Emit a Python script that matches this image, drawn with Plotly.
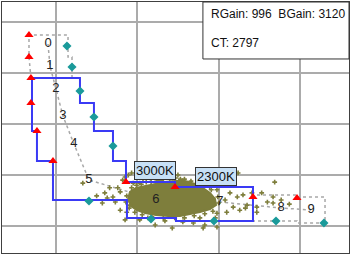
import plotly.graph_objects as go

# ---- data (chart units: grid lines at integer values) ----
zone_x = [-0.295, 0.295, 0.295, 0.467, 0.467, 0.701, 0.701, 0.861, 0.861, 1.464, 1.464, 2.423,
          2.423, 1.476, 1.476, 0.873, 0.873, -0.037, -0.037, -0.234, -0.234, -0.295, -0.295]
zone_y = [2.902, 2.902, 2.412, 2.412, 1.863, 1.863, 1.275, 1.275, 0.863, 0.863, 0.765, 0.765,
          0.098, 0.098, 0.157, 0.157, 0.510, 0.510, 1.275, 1.275, 1.863, 1.863, 2.902]

outer_a_x = [-0.308, -0.332, -0.332, 0.148, 0.148, 0.197, 0.197]
outer_a_y = [2.902, 3.314, 3.745, 3.745, 3.314, 3.314, 2.902]
outer_b_x = [2.423, 2.423, 2.964, 2.964, 3.309, 3.309, 2.964, 2.964, 2.423]
outer_b_y = [0.569, 0.608, 0.608, 0.569, 0.569, 0.059, 0.059, 0.098, 0.098]

upper_x = [-0.332, -0.332, -0.308, -0.308, -0.234, -0.037, 0.861, 1.464, 2.423, 2.964]
upper_y = [3.745, 3.314, 2.902, 2.412, 1.863, 1.275, 0.863, 0.765, 0.569, 0.549]

lower_x = [0.135, 0.197, 0.295, 0.467, 0.701, 0.406, 1.169, 1.943, 2.706, 3.296]
lower_y = [3.529, 3.118, 2.647, 2.137, 1.569, 0.490, 0.137, 0.098, 0.098, 0.059]

locus_x = [-0.098, -0.074, 0.000, 0.086, 0.221, 0.406, 1.230, 2.017, 2.768, 3.137]
locus_y = [3.569, 3.137, 2.686, 2.157, 1.608, 0.902, 0.510, 0.471, 0.353, 0.314]
locus_labels = ["0", "1", "2", "3", "4", "5", "6", "7", "8", "9"]

core_x = [0.886, 0.910, 0.984, 1.095, 1.218, 1.341, 1.464, 1.587, 1.710, 1.808, 1.894, 1.956,
          1.968, 1.894, 1.771, 1.648, 1.525, 1.378, 1.230, 1.095, 0.996, 0.923, 0.886]
core_y = [0.529, 0.667, 0.745, 0.784, 0.824, 0.863, 0.882, 0.882, 0.824, 0.745, 0.647, 0.529,
          0.412, 0.333, 0.275, 0.235, 0.196, 0.196, 0.216, 0.255, 0.314, 0.392, 0.529]

stat_x = [0.33, 0.50, 0.57, 0.60, 0.70, 0.76, 0.63, 0.66, 0.79, 0.73, 0.79, 0.87, 0.85, 0.91,
          0.82, 0.89, 0.93, 0.95, 0.85, 1.07, 1.16, 1.19, 1.26, 1.37, 1.50, 1.53, 1.61, 1.69,
          1.03, 1.32, 1.43, 1.89, 1.98, 2.04, 2.18, 2.24, 2.14, 2.23, 2.30, 2.41, 2.08, 2.18,
          2.26, 2.10, 1.98, 2.35, 2.33, 2.47, 2.53, 2.60, 2.67, 2.69, 2.77, 2.67, 2.87, 2.47,
          1.98, 1.83, 1.81, 1.69, 1.56, 1.43, 1.22, 1.03, 1.34, 1.77, 1.96, 1.13,
          0.93, 0.99, 1.05, 1.11, 1.17, 1.24, 1.30, 1.40, 1.47, 1.58, 1.66, 1.75, 1.83, 1.91,
          1.99, 2.00, 1.93, 1.83, 1.70, 1.58, 1.46, 1.32, 1.18, 1.06, 0.97, 0.90, 0.86, 0.87]
stat_y = [0.84, 0.59, 0.45, 0.65, 0.57, 0.75, 0.55, 0.75, 0.67, 0.47, 0.31, 0.27, 0.12, 0.41,
          0.90, 1.00, 1.04, 0.84, 0.96, 0.92, 0.94, 0.98, 0.90, 0.96, 1.00, 0.92, 0.84, 0.78,
          0.84, 0.92, 0.94, 0.76, 0.71, 1.00, 0.84, 1.04, 0.65, 0.57, 0.61, 0.65, 0.51, 0.37,
          0.31, 0.27, 0.25, 0.41, 0.35, 0.37, 0.65, 0.47, 0.57, 0.86, 0.51, 0.45, 0.43, 0.27,
          -0.02, 0.02, -0.04, 0.06, 0.08, -0.04, 0.02, 0.12, 0.10, 0.16, 0.16, 0.16,
          0.75, 0.80, 0.82, 0.86, 0.86, 0.88, 0.90, 0.92, 0.94, 0.92, 0.88, 0.86, 0.80, 0.71,
          0.57, 0.45, 0.29, 0.24, 0.20, 0.16, 0.16, 0.16, 0.18, 0.22, 0.27, 0.35, 0.47, 0.59]

ct_labels = ["3000K", "2300K"]
ct_x = [1.218, 1.962]
ct_y = [1.098, 0.980]

info_lines = ["RGain: 996\u00a0\u00a0BGain: 3120", "CT: 2797"]

OLIVE = "#7e7e3c"
GRAY = "#a8a8a8"

fig = go.Figure()
fig.add_trace(go.Scatter(x=outer_a_x, y=outer_a_y, mode="lines",
                         line=dict(color=GRAY, width=1.5, dash="dot"), hoverinfo="skip"))
fig.add_trace(go.Scatter(x=outer_b_x, y=outer_b_y, mode="lines",
                         line=dict(color=GRAY, width=1.5, dash="dot"), hoverinfo="skip"))
fig.add_trace(go.Scatter(x=locus_x, y=locus_y, mode="lines",
                         line=dict(color=GRAY, width=1.5, dash="dot"), hoverinfo="skip"))
fig.add_trace(go.Scatter(x=core_x, y=core_y, mode="lines", fill="toself",
                         fillcolor=OLIVE, line=dict(color=OLIVE, width=2), hoverinfo="skip"))
fig.add_trace(go.Scatter(x=stat_x, y=stat_y, mode="markers",
                         marker=dict(symbol="cross", size=4, color=OLIVE), hoverinfo="skip"))
fig.add_trace(go.Scatter(x=zone_x, y=zone_y, mode="lines",
                         line=dict(color="#3a3af5", width=2), hoverinfo="skip"))
fig.add_trace(go.Scatter(x=upper_x, y=upper_y, mode="markers",
                         marker=dict(symbol="triangle-up", size=8, color="#ff0000"), hoverinfo="skip"))
fig.add_trace(go.Scatter(x=lower_x, y=lower_y, mode="markers",
                         marker=dict(symbol="diamond", size=7, color="#1a9a9a"), hoverinfo="skip"))
fig.add_trace(go.Scatter(x=locus_x, y=locus_y, mode="text", text=locus_labels,
                         textposition="middle center",
                         textfont=dict(family="Liberation Sans, Arial", size=13, color="#222222"),
                         hoverinfo="skip"))

for t, x, y in zip(ct_labels, ct_x, ct_y):
    fig.add_annotation(x=x, y=y, text=t, showarrow=False,
                       font=dict(family="Liberation Sans, Arial", size=13, color="#111111"),
                       bgcolor="#c7e0f6", bordercolor="#333333", borderwidth=1, borderpad=1)

fig.add_shape(type="rect", xref="paper", yref="paper", x0=0.579, x1=1.0, y0=0.773, y1=1.0,
              fillcolor="white", line=dict(color="#333333", width=1), layer="above")
for i, t in enumerate(info_lines):
    fig.add_annotation(xref="paper", yref="paper", x=0.5965, y=[0.952, 0.837][i], text=t,
                       showarrow=False, xanchor="left", yanchor="middle",
                       font=dict(family="Liberation Sans, Arial", size=12, color="#111111"))

axis_common = dict(showgrid=True, gridcolor="#ababab", gridwidth=2, zeroline=False,
                   showticklabels=False, ticks="", showline=True, linecolor="#404040",
                   linewidth=1, mirror=True, tick0=0, dtick=1, fixedrange=True)
fig.update_layout(
    width=351, height=256, margin=dict(l=2, r=2, t=2, b=3),
    paper_bgcolor="white", plot_bgcolor="white", showlegend=False,
    xaxis=dict(range=[-0.664, 3.604], **axis_common),
    yaxis=dict(range=[-0.529, 4.392], **axis_common),
)
fig.write_html("out.html")
